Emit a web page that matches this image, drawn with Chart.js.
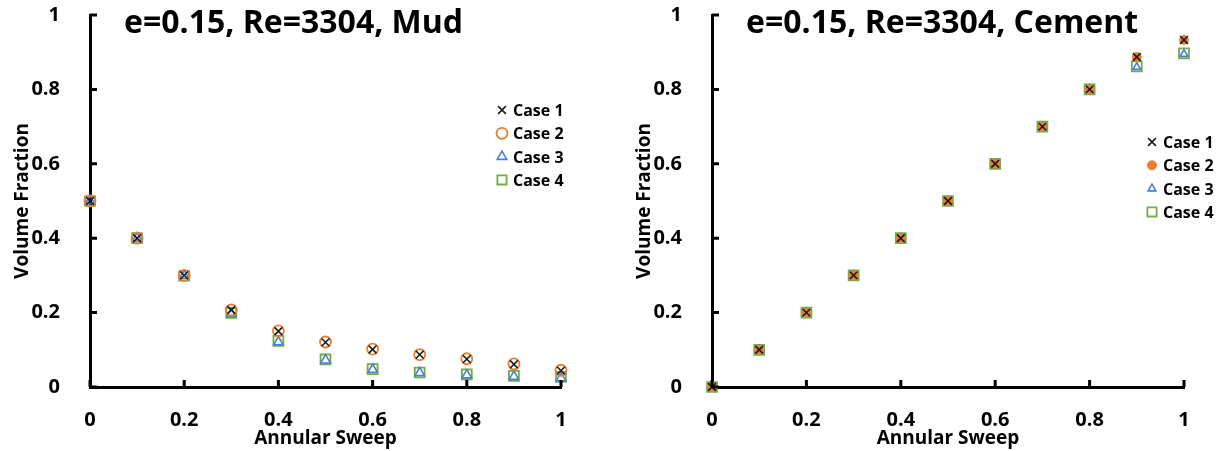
<!DOCTYPE html>
<html>
<head>
<meta charset="utf-8">
<script src="https://cdn.jsdelivr.net/npm/chart.js"></script>
<style>
  html, body { margin: 0; padding: 0; background: #fff; }
  .row { display: flex; width: 1224px; height: 451px; }
  .cell { width: 612px; height: 451px; }
</style>
</head>
<body>
<div class="row">
  <div class="cell"><canvas id="mud" width="612" height="451"></canvas></div>
  <div class="cell"><canvas id="cement" width="612" height="451"></canvas></div>
</div>
<script>
// annular sweep positions (x) shared by every series
const sweep = [0, 0.1, 0.2, 0.3, 0.4, 0.5, 0.6, 0.7, 0.8, 0.9, 1];
const caseLabels = ['Case 1', 'Case 2', 'Case 3', 'Case 4'];
const axisTicks = [0, 0.2, 0.4, 0.6, 0.8, 1];

// mud volume fraction
const mudCase1 = [0.5, 0.4, 0.3, 0.207, 0.150, 0.120, 0.101, 0.087, 0.075, 0.061, 0.044];
const mudCase2 = [0.5, 0.4, 0.3, 0.207, 0.151, 0.121, 0.102, 0.087, 0.076, 0.062, 0.045];
const mudCase3 = [0.5, 0.4, 0.299, 0.197, 0.121, 0.072, 0.047, 0.038, 0.032, 0.028, 0.024];
const mudCase4 = [0.5, 0.4, 0.299, 0.199, 0.124, 0.074, 0.048, 0.039, 0.034, 0.030, 0.027];

// cement volume fraction
const cementCase1 = [0, 0.1, 0.2, 0.3, 0.4, 0.5, 0.6, 0.7, 0.8, 0.887, 0.933];
const cementCase2 = [0, 0.1, 0.2, 0.3, 0.4, 0.5, 0.6, 0.7, 0.8, 0.887, 0.933];
const cementCase3 = [0, 0.1, 0.2, 0.3, 0.4, 0.5, 0.6, 0.7, 0.8, 0.860, 0.895];
const cementCase4 = [0, 0.1, 0.2, 0.3, 0.4, 0.5, 0.6, 0.7, 0.8, 0.862, 0.897];

const mudTitle = 'e=0.15, Re=3304, Mud';
const cementTitle = 'e=0.15, Re=3304, Cement';

const FONT = '"Open Sans", "Noto Sans", sans-serif';
Chart.defaults.font.family = FONT;
Chart.defaults.font.weight = 'bold';
Chart.defaults.color = '#000';

function markerStyles(filledCircle) {
    return [
        { pointStyle: 'crossRot', pointRadius: 5.5, pointBorderColor: '#1a1a1a', pointBackgroundColor: '#1a1a1a', pointBorderWidth: 1.6 },
        { pointStyle: 'circle', pointRadius: filledCircle ? 4.5 : 5.5, pointBorderColor: '#ED7D31',
          pointBackgroundColor: filledCircle ? '#ED7D31' : 'rgba(0,0,0,0)', pointBorderWidth: filledCircle ? 1 : 1.8 },
        { pointStyle: 'triangle', pointRadius: filledCircle ? 4.5 : 5.5, pointBorderColor: '#4A80D2',
          pointBackgroundColor: 'rgba(0,0,0,0)', pointBorderWidth: 1.6 },
        { pointStyle: 'rect', pointRadius: 7, pointBorderColor: '#70AD47',
          pointBackgroundColor: 'rgba(0,0,0,0)', pointBorderWidth: 1.8 }
    ];
}

// inward tick marks, legend inside the plot and the panel heading
function panelDecor(title, legendAt) {
    return {
        id: 'panelDecor',
        afterDatasetsDraw(chart) {
            const { ctx, chartArea } = chart;
            const xs = chart.scales.x;
            const ys = chart.scales.y;
            ctx.save();
            ctx.strokeStyle = '#000';
            ctx.lineWidth = 3;
            ctx.beginPath();
            axisTicks.forEach(v => {
                const py = ys.getPixelForValue(v);
                ctx.moveTo(chartArea.left, py);
                ctx.lineTo(chartArea.left + 7, py);
                const px = xs.getPixelForValue(v);
                ctx.moveTo(px, chartArea.bottom);
                ctx.lineTo(px, chartArea.bottom - 7);
            });
            ctx.stroke();

            // heading
            ctx.fillStyle = '#000';
            ctx.font = 'bold 32px ' + FONT;
            ctx.textBaseline = 'alphabetic';
            ctx.textAlign = 'left';
            ctx.fillText(title, chartArea.left + 34, chartArea.top + 18);

            // legend
            ctx.font = 'bold 16px ' + FONT;
            chart.data.datasets.forEach((ds, i) => {
                const lx = chartArea.left + legendAt.x;
                const ly = chartArea.top + legendAt.y + i * 23.3;
                ctx.strokeStyle = ds.pointBorderColor;
                ctx.fillStyle = ds.pointBackgroundColor;
                ctx.lineWidth = ds.pointBorderWidth;
                Chart.helpers.drawPoint(ctx, {
                    pointStyle: ds.pointStyle,
                    rotation: 0,
                    radius: ds.pointStyle === 'rect' ? 6.5 : ds.pointRadius,
                    borderWidth: ds.pointBorderWidth
                }, lx, ly);
                ctx.fillStyle = '#000';
                ctx.fillText(ds.label, lx + 11, ly + 6);
            });
            ctx.restore();
        }
    };
}

function buildChart(canvasId, title, series, filledCircle, legendAt, padLeft, padRight) {
    const styles = markerStyles(filledCircle);
    const datasets = series.map((values, i) => Object.assign({
        label: caseLabels[i],
        data: values.map((v, j) => ({ x: sweep[j], y: v })),
        showLine: false,
        clip: false
    }, styles[i]));

    const tickFont = { size: 20, weight: 'bold' };
    const titleFont = { size: 19, weight: 'bold' };
    const fmt = v => String(Math.round(v * 10) / 10);

    return new Chart(document.getElementById(canvasId), {
        type: 'scatter',
        data: { datasets },
        options: {
            responsive: false,
            animation: false,
            devicePixelRatio: 1,
            layout: { padding: { top: 0, left: padLeft, right: padRight, bottom: 0 } },
            scales: {
                x: {
                    type: 'linear',
                    min: 0,
                    max: 1,
                    grid: { display: false },
                    border: { display: true, color: '#000', width: 3 },
                    ticks: { stepSize: 0.2, padding: 13, font: tickFont, callback: fmt },
                    title: { display: true, text: 'Annular Sweep', font: titleFont, padding: { top: 0, bottom: 1 } },
                    afterFit(scale) { scale.height = 64; }
                },
                y: {
                    min: 0,
                    max: 1,
                    grid: { display: false },
                    border: { display: true, color: '#000', width: 3 },
                    ticks: { stepSize: 0.2, padding: 22, font: tickFont, callback: fmt },
                    title: { display: true, text: 'Volume Fraction', font: titleFont, padding: { top: 11, bottom: 0 } },
                    afterFit(scale) {
                        scale.width = 90;
                        scale.paddingTop = 15;
                        scale.paddingBottom = 0;
                    }
                }
            },
            plugins: {
                legend: { display: false },
                tooltip: { enabled: false }
            }
        },
        plugins: [panelDecor(title, legendAt)]
    });
}

buildChart('mud', mudTitle, [mudCase1, mudCase2, mudCase3, mudCase4], false, { x: 412, y: 95 }, 0, 51);
buildChart('cement', cementTitle, [cementCase1, cementCase2, cementCase3, cementCase4], true, { x: 440, y: 127 }, 10, 40);
</script>
</body>
</html>
